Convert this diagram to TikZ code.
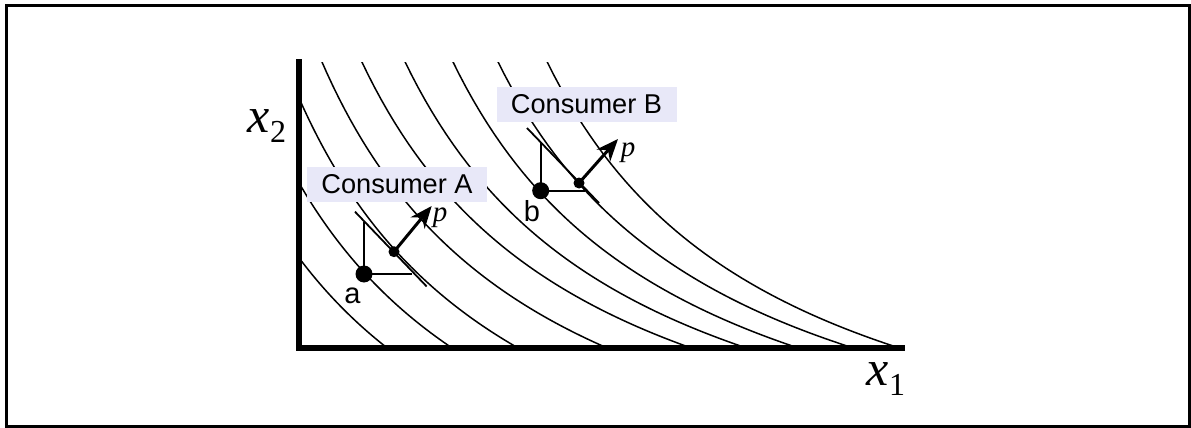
\documentclass[tikz,border=0pt]{standalone}
\usepackage{fontspec}
\setmainfont{Liberation Sans}
\newfontfamily\serfont{Liberation Serif}
\usepackage{xcolor}
\usetikzlibrary{arrows.meta}
\definecolor{tagfill}{RGB}{232,232,248}

\begin{document}
\begin{tikzpicture}[x=0.5pt, y=-0.5pt]
	% Styles
	\tikzstyle{curve} = [line width=0.75pt, line join=round]
	\tikzstyle{axis} = [line width=3pt]
	\tikzstyle{tag} = [fill=tagfill, minimum width=90pt, minimum height=17.5pt, inner sep=0pt, font=\fontsize{13.6}{15}\selectfont]
	\tikzstyle{bigdot} = [circle, fill=black, inner sep=0pt, minimum size=8.5pt]
	\tikzstyle{smalldot} = [circle, fill=black, inner sep=0pt, minimum size=5.5pt]
	\tikzstyle{guide} = [line width=1.2pt]
	\tikzstyle{tangent} = [line width=0.9pt]
	\tikzstyle{arrow} = [line width=1.5pt, -{Stealth[length=11pt, width=9pt, inset=3.5pt]}]
	\tikzstyle{ptlabel} = [inner sep=0pt, font=\fontsize{14.5}{14}\selectfont]
	\tikzstyle{price} = [inner sep=0pt, font=\serfont\itshape\fontsize{14.5}{14.5}\selectfont]

	\useasboundingbox (0,0) rectangle (1191,428);
	\draw[line width=1.5pt] (6.5,5.7) rectangle (1189.5,426.5);

	% Indifference curves
	\begin{scope}[shift={(299,348)}, yscale=-1]
		\clip (0,0) rectangle (620,286);
		\draw[curve] plot[domain=0:89, samples=50] (\x, {1115.3/(0.01*\x+2.89)-295.7});
		\draw[curve] plot[domain=0:154, samples=50] (\x, {1115.3/(0.01*\x+2.54)-274.0});
		\draw[curve] plot[domain=0:220, samples=50] (\x, {1115.3/(0.01*\x+2.217)-253.1});
		\draw[curve] plot[domain=22:309, samples=50] (\x, {1115.3/(0.01*\x+1.971)-220.8});
		\draw[curve] plot[domain=62:393, samples=50] (\x, {1115.3/(0.01*\x+1.668)-199.6});
		\draw[curve] plot[domain=105:448, samples=50] (\x, {1115.3/(0.01*\x+1.26)-194.6});
		\draw[curve] plot[domain=153:500, samples=50] (\x, {1115.3/(0.01*\x+0.789)-193.0});
		\draw[curve] plot[domain=198:555, samples=50] (\x, {1115.3/(0.01*\x+0.358)-189.1});
		\draw[curve] plot[domain=247:601, samples=50] (\x, {1115.3/(0.01*\x-0.139)-190.3});
	\end{scope}

	% Axes
	\draw[axis] (299,59) -- (299,348) -- (905,348);
	\node (xtwo) [inner sep=0pt] at (267,126) {\serfont{\fontsize{25}{25}\selectfont\itshape x}\raisebox{-5pt}{\fontsize{16}{16}\selectfont 2}};
	\node (xone) [inner sep=0pt] at (886,379) {\serfont{\fontsize{25}{25}\selectfont\itshape x}\raisebox{-5pt}{\fontsize{16}{16}\selectfont 1}};

	% Nodes
	\node (tagA) [tag] at (397,184.5) {Consumer A};
	\node (tagB) [tag] at (586.5,104) {Consumer B};
	\node (a) [bigdot] at (364,274) {};
	\node (a2) [smalldot] at (394,251.7) {};
	\node (b) [bigdot] at (540.7,190.7) {};
	\node (b2) [smalldot] at (579,183) {};
	\node (alabel) [ptlabel] at (352.5,295.5) {a};
	\node (blabel) [ptlabel] at (532,211) {b};
	\node (pA) [price] at (440,218) {p};
	\node (pB) [price] at (628,153) {p};

	\coordinate (aup) at (364,221.7);
	\coordinate (aright) at (411.7,274);
	\coordinate (atanl) at (355,211.7);
	\coordinate (atanr) at (426.7,286.5);
	\coordinate (atip) at (431.7,206);
	\coordinate (bup) at (540.7,142);
	\coordinate (bright) at (585,190.7);
	\coordinate (btanl) at (527,128);
	\coordinate (btanr) at (599,203);
	\coordinate (btip) at (618,139);

	% Connections
	\draw[guide] (aup) -- (a.center) -- (aright);
	\draw[tangent] (atanl) -- (atanr);
	\draw[arrow] (a2.center) -- (atip);
	\draw[guide] (bup) -- (b.center) -- (bright);
	\draw[tangent] (btanl) -- (btanr);
	\draw[arrow] (b2.center) -- (btip);
\end{tikzpicture}
\end{document}
